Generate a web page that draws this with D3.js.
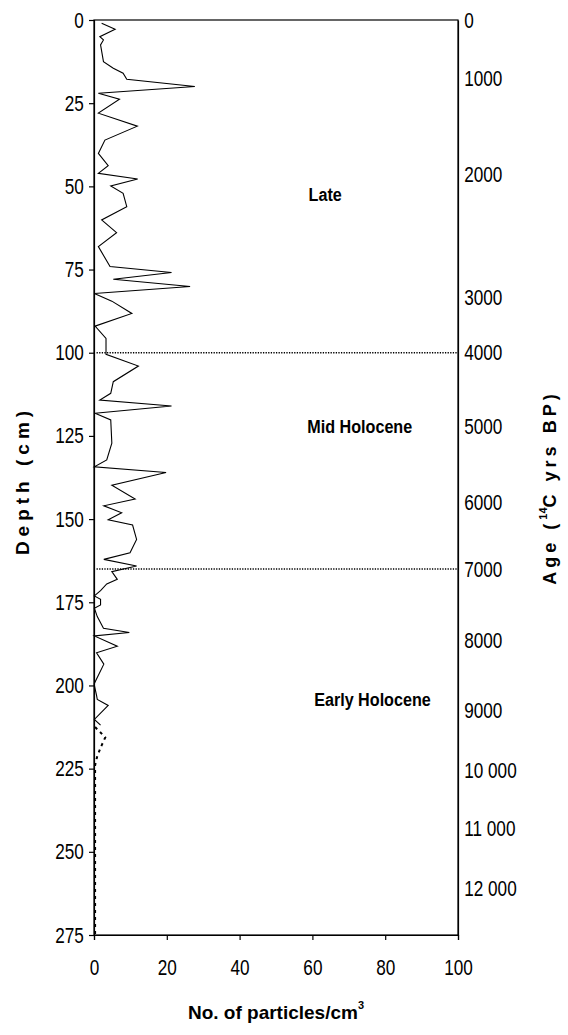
<!DOCTYPE html>
<html>
<head>
<meta charset="utf-8">
<script src="https://cdn.jsdelivr.net/npm/d3@7"></script>
<style>
body { margin: 0; background: #fff; }
svg text { font-family: "Liberation Sans", Arial, sans-serif; fill: #000; }
</style>
</head>
<body>
<script>
// sediment core: particles per cm3 against depth
const depth = [1, 2.8, 5, 6, 7.5, 12.5, 14.5, 16, 17.8, 20, 22, 23.8, 28, 31.9, 36.1, 40.1, 43.8, 46.1, 47.8,
    49.9, 52.1, 56.1, 60.1, 63.9, 68.1, 74.1, 75.9, 77.9, 80.1, 82.2, 84.5, 88.2, 92, 95.7, 100.5,
    104, 108.7, 112.2, 114.2, 116, 118.2, 120.2, 127.2, 132.2, 134.3, 136, 139.8, 144, 146, 148.1,
    150.2, 151.8, 156.1, 160.1, 162.1, 164.1, 165.8, 168.1, 169.5, 171.5, 173.1, 174.1, 175.8, 176.8,
    179.3, 182.8, 184.1, 185.1, 188.2, 190.2, 193.6, 199.4, 200, 203, 204.2, 206, 210.2, 211.9];
const particles = [2.1, 5.8, 1.6, 2.6, 1.8, 2.6, 5.3, 8.0, 9.0, 27.7, 1.2, 7.0, 1.2, 11.9, 3.0, 1.2, 3.9, 1.2, 12.0,
    4.6, 8.0, 9.0, 2.1, 6.2, 1.2, 4.4, 21.3, 5.3, 26.4, 0.1, 4.9, 10.4, 0.3, 3.3, 3.3,
    12.2, 5.3, 4.6, 1.6, 21.3, 0.3, 4.6, 4.9, 3.5, 0.1, 19.8, 4.9, 11.3, 2.7, 7.6,
    3.9, 10.6, 11.7, 9.9, 2.7, 11.7, 4.9, 6.4, 3.5, 1.8, 0.1, 1.8, 1.8, 0.1,
    0.9, 2.6, 9.7, 0.1, 6.4, 0.7, 2.7, 0.1, 0.1, 0.7, 0.9, 3.9, 0.1, 1.8];
// uncertain lower part, drawn dotted
const tailDepth = [212.5, 215.6, 218, 221.2, 224, 275];
const tailParticles = [0.3, 3.1, 2.1, 0.9, 0.3, 0.3];

const zoneDepths = [100, 165];
const zoneNames = ["Late", "Mid Holocene", "Early Holocene"];
const zoneNameDepths = [52.5, 122.3, 204.3];
const zoneNameValues = [63.5, 73, 76.5];

const depthTicks = [0, 25, 50, 75, 100, 125, 150, 175, 200, 225, 250, 275];
const particleTicks = [0, 20, 40, 60, 80, 100];
const ageLabels = ["0", "1000", "2000", "3000", "4000", "5000", "6000", "7000", "8000", "9000", "10 000", "11 000", "12 000"];
const ageDepths = [0, 17.7, 46.3, 83.3, 100, 122.3, 144.9, 165, 186.4, 207.4, 225.4, 242.9, 260.9];

const W = 568, H = 1035;
const margin = {top: 20, right: 110, bottom: 100, left: 94};
const narrow = "scale(0.78,1)"; // the original uses a condensed face

const svg = d3.select("body").append("svg")
    .attr("width", W)
    .attr("height", H);

const x = d3.scaleLinear().domain([0, 100]).range([margin.left, W - margin.right]);
const y = d3.scaleLinear().domain([0, 275]).range([margin.top, H - margin.bottom]);

// frame
svg.append("rect")
    .attr("x", x(0)).attr("y", y(0))
    .attr("width", x(100) - x(0)).attr("height", y(275) - y(0))
    .attr("fill", "none").attr("stroke", "#000").attr("stroke-width", 1.2);

// zone boundaries
svg.selectAll(".zone-line")
    .data(zoneDepths)
    .enter()
    .append("line")
    .attr("class", "zone-line")
    .attr("x1", x(0.7)).attr("x2", x(100))
    .attr("y1", d => y(d)).attr("y2", d => y(d))
    .attr("stroke", "#000")
    .attr("stroke-width", 1.3)
    .attr("stroke-dasharray", "1.3,1.3");

svg.selectAll(".zone-name")
    .data(zoneNames)
    .enter()
    .append("text")
    .attr("class", "zone-name")
    .attr("transform", (d, i) => `translate(${x(zoneNameValues[i])},${y(zoneNameDepths[i])}) scale(0.85,1)`)
    .attr("text-anchor", "middle")
    .attr("dominant-baseline", "central")
    .attr("font-size", 19)
    .attr("font-weight", "bold")
    .text(d => d);

// left axis: depth
const gy = svg.append("g")
    .attr("transform", `translate(${x(0)},0)`)
    .call(d3.axisLeft(y).tickValues(depthTicks).tickSize(5).tickPadding(8));

// bottom axis: particles
const gx = svg.append("g")
    .attr("transform", `translate(0,${y(275)})`)
    .call(d3.axisBottom(x).tickValues(particleTicks).tickSize(5).tickPadding(19));

// right axis: age
const ga = svg.append("g")
    .attr("transform", `translate(${x(100)},0)`)
    .call(d3.axisRight(y).tickValues(ageDepths).tickSize(0).tickPadding(8)
        .tickFormat((d, i) => ageLabels[i]));

[gy, gx, ga].forEach(g => {
    g.select(".domain").attr("stroke", "#000").attr("stroke-width", 1.2);
    g.selectAll(".tick line").attr("stroke", "#000").attr("stroke-width", 1.2);
    g.selectAll(".tick text")
        .attr("font-size", 22)
        .attr("font-family", null)
        .attr("transform", narrow);
});

// particle curve
const line = d3.line()
    .x(d => x(d[1]))
    .y(d => y(d[0]));

svg.append("path")
    .datum(depth.map((d, i) => [d, particles[i]]))
    .attr("d", line)
    .attr("fill", "none")
    .attr("stroke", "#000")
    .attr("stroke-width", 1.1)
    .attr("stroke-linejoin", "miter");

svg.append("path")
    .datum(tailDepth.map((d, i) => [d, tailParticles[i]]))
    .attr("d", line)
    .attr("fill", "none")
    .attr("stroke", "#000")
    .attr("stroke-width", 2)
    .attr("stroke-dasharray", "3,4");

// axis titles
svg.append("text")
    .attr("transform", `translate(22,${(y(0) + y(275)) / 2 + 3}) rotate(-90)`)
    .attr("text-anchor", "middle")
    .attr("dominant-baseline", "central")
    .attr("font-size", 19)
    .attr("font-weight", "bold")
    .attr("letter-spacing", 5)
    .text("Depth (cm)");

const ageTitle = svg.append("text")
    .attr("transform", `translate(550,${(y(0) + y(275)) / 2 + 10}) rotate(-90)`)
    .attr("text-anchor", "middle")
    .attr("dominant-baseline", "central")
    .attr("font-size", 18)
    .attr("font-weight", "bold")
    .attr("letter-spacing", 4);
ageTitle.append("tspan").text("Age (");
ageTitle.append("tspan").attr("font-size", 11).attr("dy", -7).attr("letter-spacing", 0).text("14");
ageTitle.append("tspan").attr("dy", 7).text("C yrs BP)");

const xTitle = svg.append("text")
    .attr("x", (x(0) + x(100)) / 2)
    .attr("y", 1019)
    .attr("text-anchor", "middle")
    .attr("font-size", 19)
    .attr("font-weight", "bold");
xTitle.append("tspan").text("No. of particles/cm");
xTitle.append("tspan").attr("font-size", 11).attr("dy", -10).text("3");
</script>
</body>
</html>
